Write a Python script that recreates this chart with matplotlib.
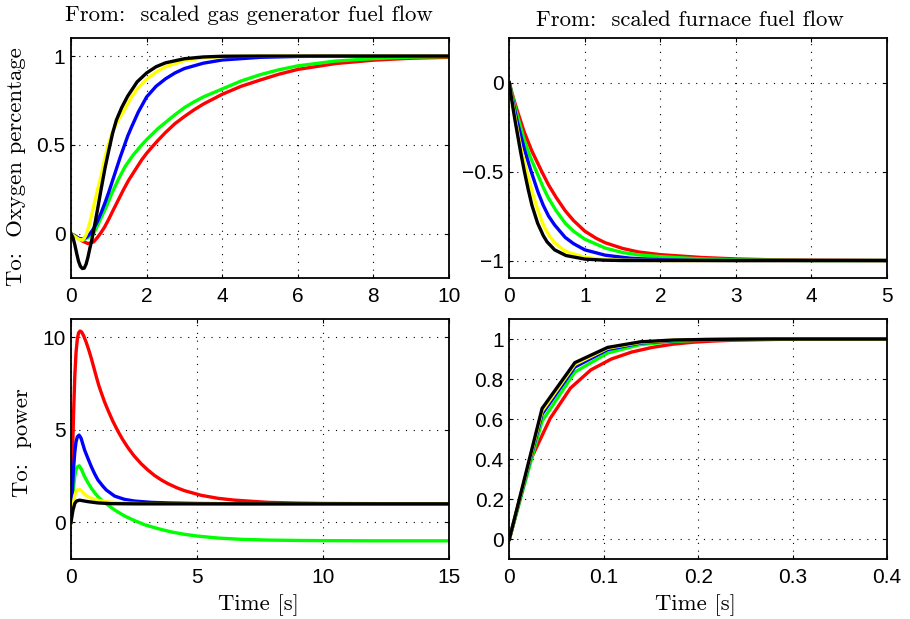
import matplotlib
matplotlib.use("Agg")
import matplotlib.pyplot as plt
from matplotlib.ticker import FuncFormatter

# ---------------- data ----------------
# Panel 1: To Oxygen percentage, From scaled gas generator fuel flow
t_og_red = [0, 0.1, 0.2, 0.3, 0.45, 0.6, 0.7, 0.77, 0.88, 0.99, 1.12, 1.25, 1.38, 1.52, 1.7, 1.87, 2.0, 2.15, 2.31, 2.5, 2.75, 3.0, 3.25, 3.5, 4.0, 4.5, 5.0, 5.5, 6.0, 7.0, 8.0, 9.0, 10.0]
y_og_red = [0, -0.01, -0.025, -0.04, -0.055, -0.045, -0.02, 0.0, 0.035, 0.079, 0.135, 0.19, 0.245, 0.30, 0.36, 0.416, 0.453, 0.49, 0.528, 0.57, 0.62, 0.66, 0.697, 0.73, 0.785, 0.83, 0.865, 0.898, 0.925, 0.958, 0.977, 0.988, 0.993]
t_og_green = [0, 0.1, 0.2, 0.32, 0.45, 0.59, 0.7, 0.81, 0.95, 1.08, 1.25, 1.43, 1.65, 1.87, 2.0, 2.31, 2.75, 3.0, 3.25, 3.5, 4.0, 4.5, 5.0, 5.5, 6.0, 7.0, 8.0, 9.0, 10.0]
y_og_green = [0, -0.01, -0.025, -0.035, -0.02, 0.0, 0.045, 0.097, 0.16, 0.228, 0.305, 0.378, 0.445, 0.5, 0.53, 0.594, 0.67, 0.71, 0.742, 0.77, 0.815, 0.86, 0.895, 0.923, 0.945, 0.972, 0.986, 0.994, 0.997]
t_og_blue = [0, 0.1, 0.2, 0.3, 0.4, 0.5, 0.6, 0.7, 0.8, 0.9, 1.0, 1.1, 1.2, 1.3, 1.4, 1.5, 1.6, 1.78, 2.0, 2.25, 2.5, 2.75, 3.0, 3.5, 4.0, 5.0, 6.0, 7.0, 10.0]
y_og_blue = [0, -0.012, -0.025, -0.03, -0.02, 0.0, 0.03, 0.07, 0.12, 0.175, 0.235, 0.3, 0.365, 0.43, 0.49, 0.55, 0.6, 0.685, 0.77, 0.83, 0.872, 0.905, 0.93, 0.96, 0.978, 0.993, 0.998, 1.0, 1.0]
t_og_yellow = [0, 0.1, 0.2, 0.3, 0.35, 0.41, 0.5, 0.6, 0.7, 0.8, 0.9, 0.97, 1.1, 1.25, 1.43, 1.6, 1.75, 2.0, 2.25, 2.5, 3.0, 3.5, 4.0, 5.0, 10.0]
y_og_yellow = [0, -0.015, -0.03, -0.035, -0.025, 0.0, 0.065, 0.155, 0.245, 0.33, 0.43, 0.49, 0.575, 0.64, 0.705, 0.77, 0.815, 0.87, 0.91, 0.94, 0.975, 0.99, 0.997, 1.0, 1.0]
t_og_black = [0, 0.05, 0.1, 0.15, 0.2, 0.25, 0.3, 0.35, 0.4, 0.45, 0.5, 0.55, 0.6, 0.7, 0.8, 0.9, 1.0, 1.1, 1.2, 1.34, 1.5, 1.75, 2.0, 2.25, 2.5, 3.0, 3.5, 4.0, 5.0, 10.0]
y_og_black = [0, -0.02, -0.06, -0.11, -0.155, -0.183, -0.195, -0.193, -0.17, -0.13, -0.08, -0.035, 0.02, 0.135, 0.255, 0.37, 0.47, 0.565, 0.64, 0.71, 0.775, 0.855, 0.905, 0.94, 0.962, 0.985, 0.995, 0.999, 1.0, 1.0]

# Panel 2: To Oxygen percentage, From scaled furnace fuel flow
t_of_red = [0, 0.05, 0.1, 0.2, 0.3, 0.43, 0.52, 0.62, 0.74, 0.85, 1.0, 1.15, 1.27, 1.5, 1.71, 2.0, 2.55, 3.0, 3.5, 4.0, 5.0]
y_of_red = [0, -0.08, -0.15, -0.28, -0.385, -0.5, -0.575, -0.645, -0.72, -0.775, -0.835, -0.875, -0.9, -0.932, -0.952, -0.967, -0.983, -0.991, -0.996, -0.998, -1.0]
t_of_green = [0, 0.05, 0.1, 0.2, 0.28, 0.36, 0.45, 0.52, 0.62, 0.74, 0.85, 1.0, 1.27, 1.5, 1.71, 2.0, 2.5, 3.0, 4.0, 5.0]
y_of_green = [0, -0.09, -0.175, -0.325, -0.42, -0.5, -0.59, -0.65, -0.72, -0.79, -0.835, -0.88, -0.93, -0.955, -0.968, -0.978, -0.99, -0.996, -1.0, -1.0]
t_of_blue = [0, 0.05, 0.1, 0.2, 0.29, 0.38, 0.45, 0.52, 0.6, 0.74, 0.85, 1.0, 1.27, 1.6, 2.0, 2.5, 3.0, 5.0]
y_of_blue = [0, -0.11, -0.21, -0.375, -0.5, -0.615, -0.69, -0.75, -0.8, -0.87, -0.905, -0.94, -0.97, -0.987, -0.995, -0.999, -1.0, -1.0]
t_of_yellow = [0, 0.05, 0.1, 0.15, 0.23, 0.3, 0.38, 0.45, 0.52, 0.6, 0.74, 1.0, 1.25, 1.5, 2.0, 5.0]
y_of_yellow = [0, -0.13, -0.25, -0.36, -0.5, -0.61, -0.72, -0.8, -0.855, -0.9, -0.948, -0.982, -0.994, -0.998, -1.0, -1.0]
t_of_black = [0, 0.025, 0.05, 0.075, 0.1, 0.15, 0.2, 0.25, 0.3, 0.375, 0.45, 0.5, 0.6, 0.75, 1.0, 1.25, 1.5, 2.0, 5.0]
y_of_black = [0, -0.075, -0.145, -0.21, -0.27, -0.39, -0.5, -0.6, -0.69, -0.79, -0.86, -0.895, -0.94, -0.972, -0.992, -0.998, -1.0, -1.0, -1.0]

# Panel 3: To power, From scaled gas generator fuel flow
t_pg_red = [0, 0.05, 0.1, 0.15, 0.2, 0.25, 0.3, 0.36, 0.42, 0.5, 0.6, 0.7, 0.8, 0.9, 1.0, 1.1, 1.2, 1.33, 1.47, 1.65, 1.87, 2.05, 2.26, 2.5, 2.79, 3.05, 3.32, 3.6, 3.85, 4.2, 4.51, 5.17, 5.83, 6.49, 7.82, 9.0, 10.0, 12.0, 15.0]
y_pg_red = [0, 3.0, 5.8, 7.9, 9.2, 9.9, 10.25, 10.35, 10.3, 10.1, 9.75, 9.35, 8.9, 8.4, 7.9, 7.42, 7.02, 6.52, 6.06, 5.5, 4.91, 4.48, 4.04, 3.6, 3.16, 2.83, 2.53, 2.28, 2.09, 1.87, 1.71, 1.46, 1.3, 1.2, 1.08, 1.04, 1.02, 1.01, 1.0]
t_pg_green = [0, 0.05, 0.1, 0.15, 0.2, 0.25, 0.33, 0.42, 0.54, 0.68, 0.81, 0.94, 1.07, 1.23, 1.4, 1.73, 2.13, 2.53, 2.92, 3.45, 3.98, 4.51, 5.0, 5.83, 6.76, 7.82, 9.0, 10.0, 12.0, 15.0]
y_pg_green = [0, 1.0, 1.9, 2.5, 2.85, 3.0, 3.06, 2.85, 2.47, 2.13, 1.84, 1.6, 1.39, 1.18, 1.0, 0.67, 0.34, 0.09, -0.13, -0.34, -0.52, -0.65, -0.74, -0.85, -0.92, -0.96, -0.98, -0.99, -1.0, -1.0]
t_pg_blue = [0, 0.05, 0.1, 0.15, 0.2, 0.25, 0.32, 0.4, 0.54, 0.68, 0.81, 0.94, 1.07, 1.25, 1.4, 1.73, 2.13, 2.53, 3.19, 3.85, 5.0, 7.0, 15.0]
y_pg_blue = [0, 1.6, 2.9, 3.8, 4.35, 4.62, 4.72, 4.55, 3.91, 3.43, 3.0, 2.62, 2.29, 1.98, 1.75, 1.42, 1.24, 1.15, 1.08, 1.05, 1.02, 1.0, 1.0]
t_pg_yellow = [0, 0.05, 0.1, 0.15, 0.2, 0.27, 0.34, 0.42, 0.54, 0.68, 0.81, 1.07, 1.47, 2.0, 2.8, 4.0, 15.0]
y_pg_yellow = [0, 0.6, 1.1, 1.45, 1.65, 1.76, 1.78, 1.7, 1.51, 1.39, 1.3, 1.19, 1.1, 1.05, 1.01, 1.0, 1.0]
t_pg_black = [0, 0.04, 0.08, 0.15, 0.22, 0.34, 0.5, 0.67, 1.07, 1.6, 2.5, 15.0]
y_pg_black = [0, 0.35, 0.67, 1.02, 1.15, 1.2, 1.16, 1.12, 1.05, 1.01, 1.0, 1.0]

# Panel 4: To power, From scaled furnace fuel flow (sampled responses)
t_pf_red = [0, 0.0216, 0.0432, 0.0648, 0.0864, 0.108, 0.1296, 0.1512, 0.1728, 0.1944, 0.216, 0.2376, 0.2592, 0.2808, 0.3024, 0.324, 0.3456, 0.3672, 0.3888, 0.4104]
y_pf_red = [0, 0.387, 0.603, 0.755, 0.846, 0.9, 0.935, 0.958, 0.974, 0.984, 0.99, 0.994, 0.996, 0.998, 0.999, 1.0, 1.0, 1.0, 1.0, 1.0]
t_pf = [0, 0.0347, 0.0694, 0.1041, 0.1388, 0.1735, 0.2082, 0.2429, 0.2776, 0.3123, 0.347, 0.3817, 0.4164]
y_pf_green = [0, 0.59, 0.835, 0.93, 0.972, 0.988, 0.995, 0.998, 0.999, 1.0, 1.0, 1.0, 1.0]
y_pf_blue = [0, 0.625, 0.86, 0.947, 0.98, 0.992, 0.997, 0.999, 1.0, 1.0, 1.0, 1.0, 1.0]
y_pf_yellow = [0, 0.64, 0.873, 0.954, 0.983, 0.994, 0.998, 0.999, 1.0, 1.0, 1.0, 1.0, 1.0]
y_pf_black = [0, 0.653, 0.882, 0.958, 0.986, 0.995, 0.998, 0.999, 1.0, 1.0, 1.0, 1.0, 1.0]

col_titles = ["From:  scaled gas generator fuel flow", "From:  scaled furnace fuel flow"]
row_labels = ["To:  Oxygen percentage", "To:  power"]
x_label = "Time [s]"

colors = ["#ff0000", "#00ff00", "#0000ff", "#ffff00", "#000000"]

# ---------------- figure ----------------
plt.rcParams["font.family"] = "Liberation Sans"
plt.rcParams["axes.unicode_minus"] = True
fig = plt.figure(figsize=(9.10, 6.19), dpi=100)

W, H = 910.0, 619.0
ax_tl = fig.add_axes([71 / W, 1 - 278.3 / H, 378 / W, 240 / H])
ax_tr = fig.add_axes([509.3 / W, 1 - 278.3 / H, 377.7 / W, 240 / H])
ax_bl = fig.add_axes([71 / W, 1 - 559.3 / H, 378 / W, 240.3 / H])
ax_br = fig.add_axes([509.3 / W, 1 - 559.3 / H, 377.7 / W, 240.3 / H])

lw = 2.4
for t, y, c in zip([t_og_red, t_og_green, t_og_blue, t_og_yellow, t_og_black],
                   [y_og_red, y_og_green, y_og_blue, y_og_yellow, y_og_black], colors):
    ax_tl.plot(t, y, color=c, lw=lw, solid_joinstyle="round")
for t, y, c in zip([t_of_red, t_of_green, t_of_blue, t_of_yellow, t_of_black],
                   [y_of_red, y_of_green, y_of_blue, y_of_yellow, y_of_black], colors):
    ax_tr.plot(t, y, color=c, lw=lw, solid_joinstyle="round")
for t, y, c in zip([t_pg_red, t_pg_green, t_pg_blue, t_pg_yellow, t_pg_black],
                   [y_pg_red, y_pg_green, y_pg_blue, y_pg_yellow, y_pg_black], colors):
    ax_bl.plot(t, y, color=c, lw=lw, solid_joinstyle="round")
for t, y, c in zip([t_pf_red, t_pf, t_pf, t_pf, t_pf],
                   [y_pf_red, y_pf_green, y_pf_blue, y_pf_yellow, y_pf_black], colors):
    ax_br.plot(t, y, color=c, lw=lw, solid_joinstyle="miter")

fmt = FuncFormatter(lambda v, p: ("%g" % v).replace("-", "\u2212"))


def style(ax, xlim, ylim, xticks, yticks):
    ax.set_xlim(xlim)
    ax.set_ylim(ylim)
    ax.set_xticks(xticks)
    ax.set_yticks(yticks)
    ax.xaxis.set_major_formatter(fmt)
    ax.yaxis.set_major_formatter(fmt)
    ax.tick_params(direction="in", length=3, width=0.8, top=True, right=True,
                   labelsize=15)
    ax.tick_params(axis="x", pad=6)
    ax.tick_params(axis="y", pad=4)
    ax.grid(True, color="black", linestyle=(0, (1, 6)), linewidth=0.8)
    for s in ax.spines.values():
        s.set_linewidth(1.3)


style(ax_tl, (0, 10), (-0.25, 1.1), [0, 2, 4, 6, 8, 10], [0, 0.5, 1])
style(ax_tr, (0, 5), (-1.1, 0.25), [0, 1, 2, 3, 4, 5], [-1, -0.5, 0])
style(ax_bl, (0, 15), (-2, 11), [0, 5, 10, 15], [0, 5, 10])
style(ax_br, (0, 0.4), (-0.1, 1.1), [0, 0.1, 0.2, 0.3, 0.4], [0, 0.2, 0.4, 0.6, 0.8, 1])

cm = dict(fontfamily="cmr10", fontsize=16.4)
ax_tl.text(0.471, 1.073, col_titles[0], transform=ax_tl.transAxes, ha="center", va="baseline", **cm)
ax_tr.text(0.478, 1.051, col_titles[1], transform=ax_tr.transAxes, ha="center", va="baseline", **cm)
ax_tl.text(-0.1455, 0.466, row_labels[0], transform=ax_tl.transAxes, rotation=90, ha="center", va="center", **cm)
ax_bl.text(-0.129, 0.486, row_labels[1], transform=ax_bl.transAxes, rotation=90, ha="center", va="center", **cm)
ax_bl.text(0.4955, -0.211, x_label, transform=ax_bl.transAxes, ha="center", va="baseline", **cm)
ax_br.text(0.494, -0.211, x_label, transform=ax_br.transAxes, ha="center", va="baseline", **cm)

fig.savefig("out.png", dpi=100)
